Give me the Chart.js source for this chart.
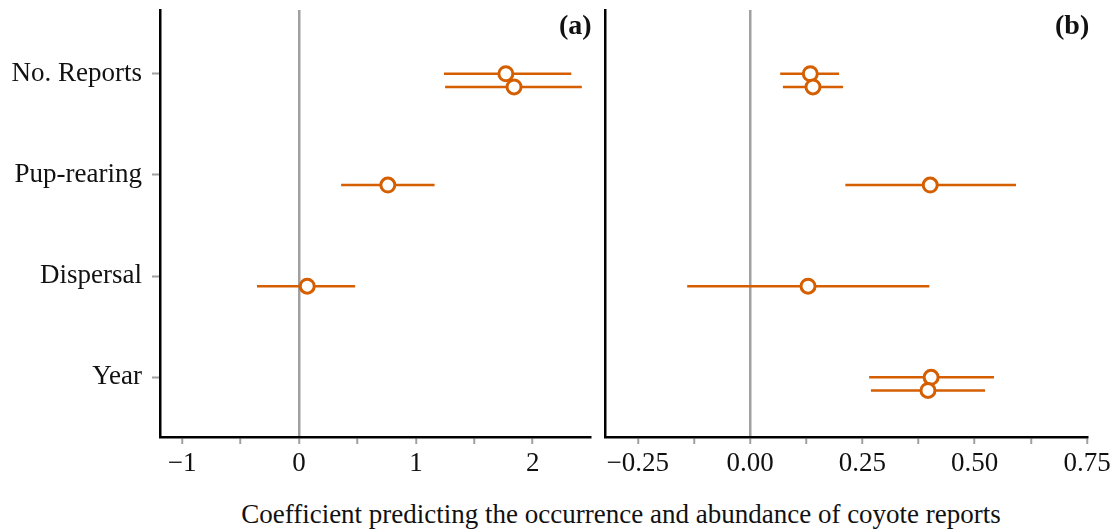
<!DOCTYPE html>
<html>
<head>
<meta charset="utf-8">
<script src="https://cdn.jsdelivr.net/npm/chart.js@4.4.1/dist/chart.umd.min.js"></script>
<style>
  body { margin: 0; background: #fff; width: 1115px; height: 529px; overflow: hidden; position: relative; }
  canvas { position: absolute; top: 0; }
  #chartA { left: 0; }
  #chartB { left: 595px; }
  .tag { position: absolute; top: 9px; font: bold 28px "Liberation Serif", serif; color: #111; }
  #xtitle { position: absolute; top: 499px; left: 621px; transform: translateX(-50%); white-space: nowrap;
            font: 27px "Liberation Serif", serif; color: #111; }
</style>
</head>
<body>
<canvas id="chartA" width="600" height="480"></canvas>
<canvas id="chartB" width="515" height="480"></canvas>
<div class="tag" style="left:559px">(a)</div>
<div class="tag" style="left:1055px">(b)</div>
<div id="xtitle">Coefficient predicting the occurrence and abundance of coyote reports</div>
<script>
// categories, top to bottom
const categories = ['No. Reports', 'Pup-rearing', 'Dispersal', 'Year'];

// panel (a) - occurrence
const aCat   = [0, 0, 1, 2];
const aDodge = [0, 0.13, 0.1, 0.1];
const aEst   = [1.77, 1.84, 0.76, 0.07];
const aLow   = [1.24, 1.25, 0.36, -0.36];
const aHigh  = [2.33, 2.42, 1.16, 0.48];
const aTicks = [-1, -0.5, 0, 0.5, 1, 1.5, 2];

// panel (b) - abundance
const bCat   = [0, 0, 1, 2, 3, 3];
const bDodge = [0, 0.13, 0.1, 0.1, 0, 0.13];
const bEst   = [0.134, 0.140, 0.401, 0.129, 0.403, 0.396];
const bLow   = [0.067, 0.073, 0.212, -0.140, 0.265, 0.269];
const bHigh  = [0.198, 0.207, 0.592, 0.399, 0.543, 0.523];
const bTicks = [-0.25, -0.125, 0, 0.125, 0.25, 0.375, 0.5, 0.625, 0.75];

const orange = '#D55E00';
const grey = '#a0a0a0';
const serif = '"Liberation Serif", serif';

function minus(s) { return s.replace('-', '\u2212'); }

function buildDatasets(cat, dodge, est, low, high) {
    const ys = cat.map((c, i) => c + dodge[i]);
    const sets = [{
        data: est.map((v, i) => ({ x: v, y: ys[i] })),
        pointRadius: 7,
        pointBorderWidth: 3,
        pointBackgroundColor: '#fff',
        pointBorderColor: orange,
        showLine: false,
        order: 0
    }];
    // one little line per interval
    low.forEach((lo, i) => {
        sets.push({
            data: [{ x: lo, y: ys[i] }, { x: high[i], y: ys[i] }],
            showLine: true,
            borderColor: orange,
            borderWidth: 2.5,
            pointRadius: 0,
            order: 1
        });
    });
    return sets;
}

function xScale(min, max, ticks, labelFn) {
    return {
        type: 'linear',
        min: min,
        max: max,
        afterFit: s => { s.height = 43; s.paddingLeft = 0; s.paddingRight = 0; },
        afterBuildTicks: s => { s.ticks = ticks.map(v => ({ value: v })); },
        ticks: {
            autoSkip: false,
            maxRotation: 0,
            padding: 4,
            color: '#111',
            font: { family: serif, size: 27 },
            callback: labelFn
        },
        grid: {
            drawOnChartArea: true,
            color: c => (c.tick && c.tick.value === 0) ? grey : 'rgba(0,0,0,0)',
            lineWidth: 2.5,
            tickColor: grey,
            tickLength: 7,
            tickWidth: 2
        },
        border: { color: '#000', width: 2.5 }
    };
}

function yScale(width, showLabels) {
    return {
        type: 'linear',
        reverse: true,
        min: -0.63,
        max: 3.59,
        afterFit: s => { s.width = width; s.paddingTop = 0; s.paddingBottom = 0; },
        afterBuildTicks: s => { s.ticks = categories.map((c, i) => ({ value: i })); },
        ticks: {
            display: showLabels,
            padding: 10,
            color: '#111',
            font: { family: serif, size: 27 },
            callback: v => categories[v]
        },
        grid: {
            drawOnChartArea: false,
            drawTicks: showLabels,
            tickColor: grey,
            tickLength: 8,
            tickWidth: 2
        },
        border: { color: '#000', width: 2.5 }
    };
}

const commonPlugins = { legend: { display: false }, tooltip: { enabled: false } };

new Chart(document.getElementById('chartA').getContext('2d'), {
    type: 'scatter',
    data: { datasets: buildDatasets(aCat, aDodge, aEst, aLow, aHigh) },
    options: {
        responsive: false,
        animation: false,
        layout: { padding: { top: 10, right: 7, left: 0, bottom: 0 } },
        plugins: commonPlugins,
        scales: {
            x: xScale(-1.19, 2.49, aTicks, v => Number.isInteger(v) ? minus(String(v)) : ''),
            y: yScale(160, true)
        }
    }
});

new Chart(document.getElementById('chartB').getContext('2d'), {
    type: 'scatter',
    data: { datasets: buildDatasets(bCat, bDodge, bEst, bLow, bHigh) },
    options: {
        responsive: false,
        animation: false,
        layout: { padding: { top: 10, right: 23, left: 0, bottom: 0 } },
        plugins: commonPlugins,
        scales: {
            x: xScale(-0.323, 0.75, bTicks, v => Number.isInteger(v * 4) ? minus(v.toFixed(2)) : ''),
            y: yScale(5, false)
        }
    }
});
</script>
</body>
</html>
